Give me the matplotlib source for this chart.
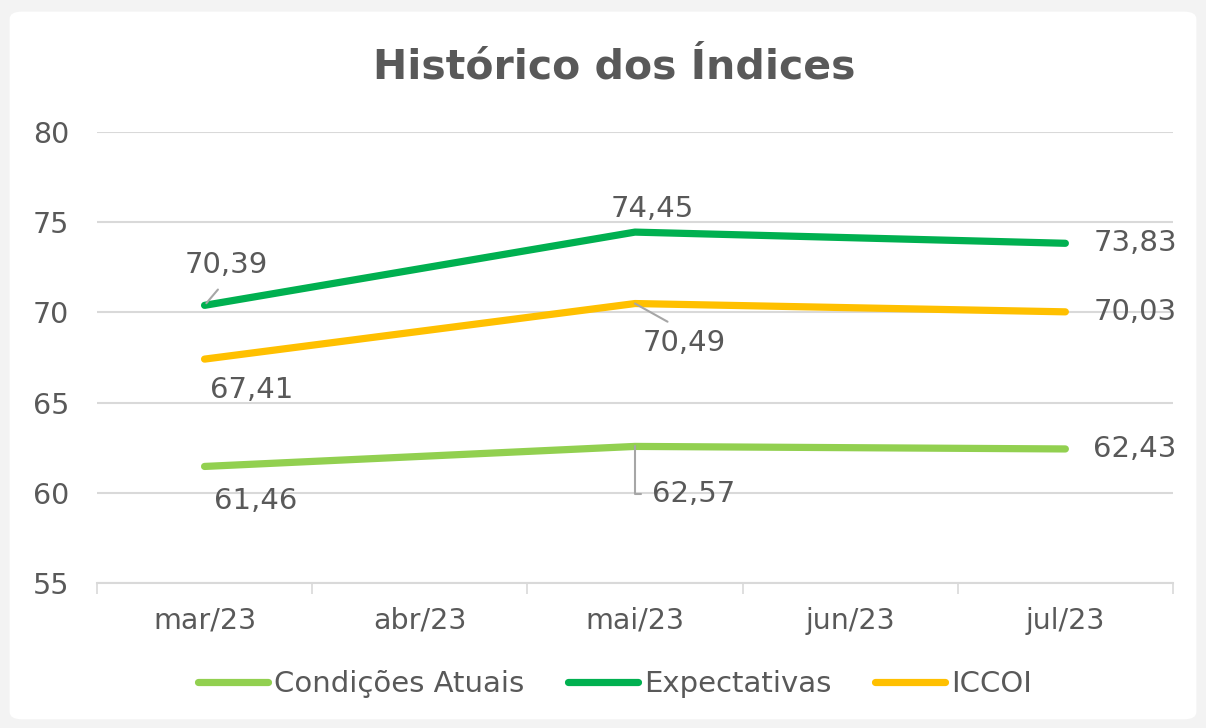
import numpy as np
import matplotlib
matplotlib.use("Agg")
import matplotlib.pyplot as plt
from matplotlib.patches import FancyBboxPatch

# data
meses = ["mar/23", "abr/23", "mai/23", "jun/23", "jul/23"]
condicoes = [61.46, np.nan, 62.57, np.nan, 62.43]
expectativas = [70.39, np.nan, 74.45, np.nan, 73.83]
iccoi = [67.41, np.nan, 70.49, np.nan, 70.03]

txt = "#595959"
grid_c = "#D9D9D9"
plt.rcParams['font.family'] = ['DejaVu Sans']

fig = plt.figure(figsize=(12.06, 7.28), dpi=100)
fig.patch.set_facecolor("#F3F3F3")
fig.patches.append(FancyBboxPatch((0.008, 0.012), 0.984, 0.972,
                                  boxstyle="round,pad=0,rounding_size=0.01",
                                  transform=fig.transFigure, facecolor="white",
                                  edgecolor="none", zorder=-5))
ax = fig.add_axes([0.0804, 0.1992, 0.8922, 0.6195])
ax.set_facecolor("none")
ax.set_zorder(2)

x = np.arange(len(meses))
series = [("Condições Atuais", condicoes, "#92D050"),
          ("Expectativas", expectativas, "#00B050"),
          ("ICCOI", iccoi, "#FFC000")]
for name, vals, col in series:
    v = np.array(vals, dtype=float)
    ok = ~np.isnan(v)
    ax.plot(x[ok], v[ok], color=col, lw=5.2, solid_capstyle="round",
            solid_joinstyle="round", label=name, zorder=3)

def lab(i, vals, dx, dy, ha="center", lead=None):
    v = vals[i]
    s = f"{v:.2f}".replace(".", ",")
    kw = {}
    if lead is not None:
        kw["arrowprops"] = lead
    ax.annotate(s, (x[i], v), xytext=(dx, dy), textcoords="offset pixels",
                ha=ha, va="center", fontsize=21, color=txt, zorder=4, **kw)

lead_c = "#A6A6A6"
# Expectativas
lab(0, expectativas, 22, 40, lead=dict(arrowstyle="-", color=lead_c, lw=1.5,
                                        relpos=(0.5, 0), shrinkA=7, shrinkB=2))
lab(2, expectativas, 17, 23)
lab(4, expectativas, 28, 0, ha="left")
# ICCOI
lab(0, iccoi, 47, -31)
lab(2, iccoi, 49, -39, lead=dict(arrowstyle="-", color=lead_c, lw=1.5,
                                  relpos=(0.45, 1), shrinkA=6, shrinkB=0))
lab(4, iccoi, 28, 0, ha="left")
# Condicoes
lab(0, condicoes, 51, -35)
lab(2, condicoes, 59, -48, lead=dict(arrowstyle="-", color=lead_c, lw=1.5,
                                      relpos=(0, 0.5), shrinkA=6, shrinkB=0,
                                      connectionstyle="angle,angleA=0,angleB=90,rad=0"))
lab(4, condicoes, 28, 0, ha="left")

ax.set_xlim(-0.5, len(meses) - 0.5)
ax.set_ylim(55, 80)
ax.set_yticks([55, 60, 65, 70, 75, 80])
ax.set_xticks(x)
ax.set_xticklabels(meses)
ax.set_xticks(np.arange(-0.5, len(meses)), minor=True)
ax.tick_params(axis="x", which="major", length=0, pad=17, labelsize=20.5, labelcolor=txt)
ax.tick_params(axis="x", which="minor", length=8, width=1.2, color=grid_c)
ax.tick_params(axis="y", length=0, pad=20, labelsize=20.5, labelcolor=txt)
ax.grid(axis="y", color=grid_c, lw=1.5, zorder=0)
for sp in ["top", "right", "left"]:
    ax.spines[sp].set_visible(False)
ax.spines["bottom"].set_color(grid_c)
ax.spines["bottom"].set_linewidth(1.5)

fig.text(0.509, 0.907, "Histórico dos Índices", ha="center", va="center",
         fontsize=29.5, fontweight="bold", color=txt)

leg = fig.legend(loc="center", bbox_to_anchor=(0.51, 0.06), ncol=3, frameon=False,
                 fontsize=21, handlelength=2.4, handletextpad=0.2, columnspacing=1.5)
for t in leg.get_texts():
    t.set_color(txt)

fig.savefig("out.png", dpi=100, facecolor=fig.get_facecolor())
